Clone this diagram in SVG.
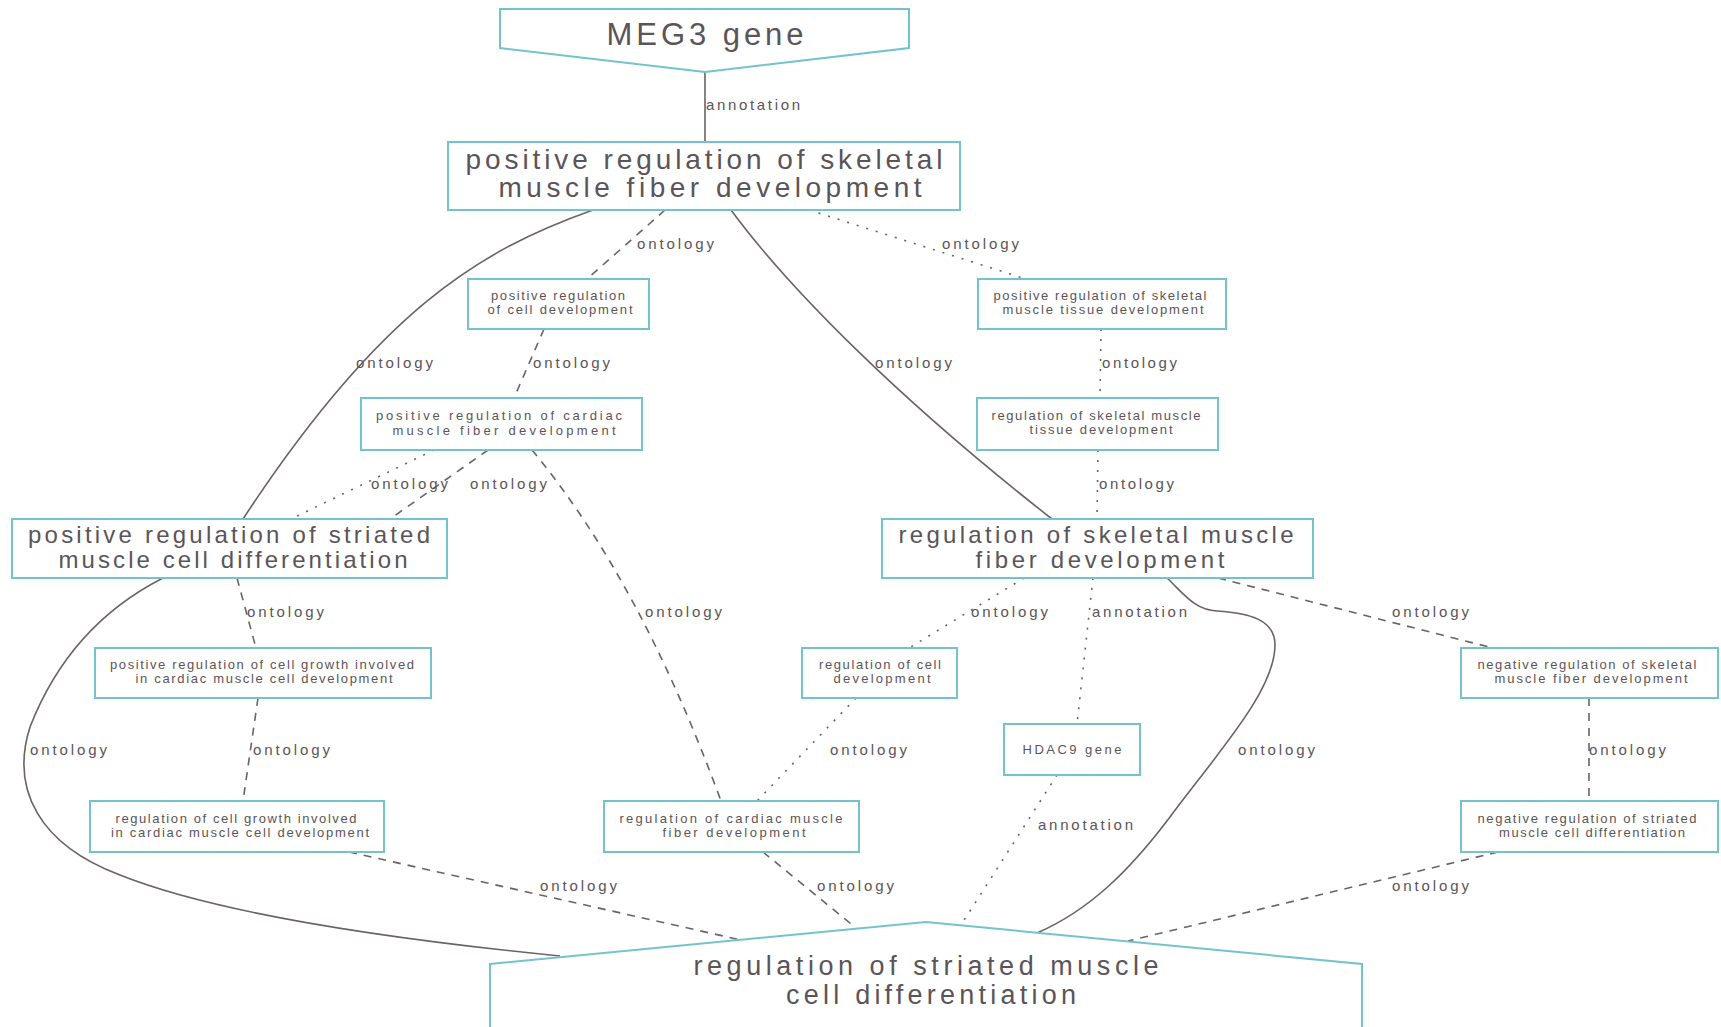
<svg xmlns="http://www.w3.org/2000/svg" width="1721" height="1027" viewBox="0 0 1721 1027">
<style>
.box{fill:#ffffff;stroke:#74c3cc;stroke-width:2}
.t{font-family:"Liberation Sans",Arial,sans-serif;fill:#5b5458;text-anchor:middle}
.big{font-size:28px}
.mid{font-size:24px}
.sm{font-size:13px}
.lbl{font-family:"Liberation Sans",Arial,sans-serif;fill:#5b5458;font-size:15px}
.e{fill:none;stroke:#6a6266;stroke-width:1.6}
.dash{stroke-dasharray:8 7}
.dot{stroke-dasharray:2 8}
</style>
<rect width="1721" height="1027" fill="#ffffff"/>
<g id="connectors">
<path class="e" d="M705,72 L705,142"/>
<path class="e dash" d="M665,210 L587,279"/>
<path class="e dot" d="M809,210 L1026,279"/>
<path class="e" d="M593,210 C480,250 380,310 243,519"/>
<path class="e" d="M731,210 C790,290 900,400 1052,519"/>
<path class="e dash" d="M544,329 L514,398"/>
<path class="e dot" d="M1101,329 L1100,398"/>
<path class="e dot" d="M1098,450 L1097,519"/>
<path class="e dot" d="M434,450 L291,519"/>
<path class="e dash" d="M488,450 L390,519"/>
<path class="e dash" d="M532,450 Q640,580 721,801"/>
<path class="e dash" d="M237,578 L256,648"/>
<path class="e dash" d="M258,698 L243,801"/>
<path class="e" d="M163,578 C110,605 60,650 30,727 C10,790 40,845 120,875 C220,915 400,940 560,956"/>
<path class="e dash" d="M349,852 L741,940"/>
<path class="e dash" d="M763,852 L856,928"/>
<path class="e dot" d="M1024,578 L909,648"/>
<path class="e dot" d="M1093,578 L1077,724"/>
<path class="e dash" d="M1218,578 L1493,648"/>
<path class="e" d="M1167,578 C1185,595 1195,610 1217,611 C1250,613 1275,620 1275,645 C1275,690 1220,750 1170,817 C1130,870 1090,910 1037,933"/>
<path class="e dot" d="M856,698 L757,801"/>
<path class="e dot" d="M1057,775 L961,925"/>
<path class="e dash" d="M1589,698 L1589,801"/>
<path class="e dash" d="M1498,852 L1128,941"/>
<text class="lbl" x="706" y="110" textLength="94">annotation</text>
<text class="lbl" x="637" y="249" textLength="77">ontology</text>
<text class="lbl" x="942" y="249" textLength="77">ontology</text>
<text class="lbl" x="356" y="368" textLength="77">ontology</text>
<text class="lbl" x="875" y="368" textLength="77">ontology</text>
<text class="lbl" x="533" y="368" textLength="77">ontology</text>
<text class="lbl" x="1102" y="368" textLength="75">ontology</text>
<text class="lbl" x="1099" y="489" textLength="75">ontology</text>
<text class="lbl" x="371" y="489" textLength="77">ontology</text>
<text class="lbl" x="470" y="489" textLength="77">ontology</text>
<text class="lbl" x="645" y="617" textLength="77">ontology</text>
<text class="lbl" x="247" y="617" textLength="77">ontology</text>
<text class="lbl" x="253" y="755" textLength="77">ontology</text>
<text class="lbl" x="30" y="755" textLength="77">ontology</text>
<text class="lbl" x="540" y="891" textLength="77">ontology</text>
<text class="lbl" x="817" y="891" textLength="77">ontology</text>
<text class="lbl" x="971" y="617" textLength="77">ontology</text>
<text class="lbl" x="1092" y="617" textLength="95">annotation</text>
<text class="lbl" x="1392" y="617" textLength="77">ontology</text>
<text class="lbl" x="1238" y="755" textLength="77">ontology</text>
<text class="lbl" x="830" y="755" textLength="77">ontology</text>
<text class="lbl" x="1038" y="830" textLength="95">annotation</text>
<text class="lbl" x="1589" y="755" textLength="77">ontology</text>
<text class="lbl" x="1392" y="891" textLength="77">ontology</text>
</g>
<g id="meg3">
<polygon class="box" points="500,9 909,9 909,48 705,72 500,48"/>
<text class="t" style="font-size:31px" x="705" y="45" textLength="197">MEG3 gene</text>
</g>
<g id="prsmfd">
<rect class="box" x="448" y="142" width="512" height="68"/>
<text class="t big" x="704" y="169" textLength="477">positive regulation of skeletal</text>
<text class="t big" x="710" y="197" textLength="423">muscle fiber development</text>
</g>
<g id="prcd">
<rect class="box" x="468" y="279" width="181" height="50"/>
<text class="t sm" x="558" y="300" textLength="134">positive regulation</text>
<text class="t sm" x="560" y="314" textLength="145">of cell development</text>
</g>
<g id="prcmfd">
<rect class="box" x="361" y="398" width="281" height="52"/>
<text class="t sm" x="499" y="420" textLength="246">positive regulation of cardiac</text>
<text class="t sm" x="504" y="435" textLength="223">muscle fiber development</text>
</g>
<g id="prsmtd">
<rect class="box" x="978" y="279" width="248" height="50"/>
<text class="t sm" x="1100" y="300" textLength="213">positive regulation of skeletal</text>
<text class="t sm" x="1103" y="314" textLength="201">muscle tissue development</text>
</g>
<g id="rsmtd">
<rect class="box" x="977" y="398" width="241" height="52"/>
<text class="t sm" x="1096" y="420" textLength="209">regulation of skeletal muscle</text>
<text class="t sm" x="1101" y="434" textLength="143">tissue development</text>
</g>
<g id="prsmcd">
<rect class="box" x="12" y="519" width="435" height="59"/>
<text class="t mid" x="229" y="543" textLength="402">positive regulation of striated</text>
<text class="t mid" x="233" y="568" textLength="349">muscle cell differentiation</text>
</g>
<g id="rsmfd">
<rect class="box" x="882" y="519" width="431" height="59"/>
<text class="t mid" x="1096" y="543" textLength="395">regulation of skeletal muscle</text>
<text class="t mid" x="1100" y="568" textLength="249">fiber development</text>
</g>
<g id="prcgicmcd">
<rect class="box" x="95" y="648" width="336" height="50"/>
<text class="t sm" x="262" y="669" textLength="304">positive regulation of cell growth involved</text>
<text class="t sm" x="264" y="683" textLength="257">in cardiac muscle cell development</text>
</g>
<g id="rcd">
<rect class="box" x="802" y="648" width="155" height="50"/>
<text class="t sm" x="880" y="669" textLength="122">regulation of cell</text>
<text class="t sm" x="882" y="683" textLength="97">development</text>
</g>
<g id="hdac9">
<rect class="box" x="1004" y="724" width="136" height="51"/>
<text class="t sm" x="1072" y="754" textLength="99">HDAC9 gene</text>
</g>
<g id="nrsmfd">
<rect class="box" x="1461" y="648" width="257" height="50"/>
<text class="t sm" x="1587" y="669" textLength="219">negative regulation of skeletal</text>
<text class="t sm" x="1591" y="683" textLength="193">muscle fiber development</text>
</g>
<g id="rcgicmcd">
<rect class="box" x="90" y="801" width="294" height="51"/>
<text class="t sm" x="236" y="823" textLength="241">regulation of cell growth involved</text>
<text class="t sm" x="240" y="837" textLength="258">in cardiac muscle cell development</text>
</g>
<g id="rcmfd">
<rect class="box" x="604" y="801" width="255" height="51"/>
<text class="t sm" x="731" y="823" textLength="223">regulation of cardiac muscle</text>
<text class="t sm" x="734" y="837" textLength="143">fiber development</text>
</g>
<g id="nrsmcd">
<rect class="box" x="1461" y="801" width="257" height="51"/>
<text class="t sm" x="1587" y="823" textLength="219">negative regulation of striated</text>
<text class="t sm" x="1592" y="837" textLength="186">muscle cell differentiation</text>
</g>
<g id="rsmcd">
<polygon class="box" points="490,964 926,922 1362,964 1362,1040 490,1040"/>
<text class="t" style="font-size:27px" x="926" y="975" textLength="465">regulation of striated muscle</text>
<text class="t" style="font-size:27px" x="931" y="1004" textLength="290">cell differentiation</text>
</g>
</svg>
